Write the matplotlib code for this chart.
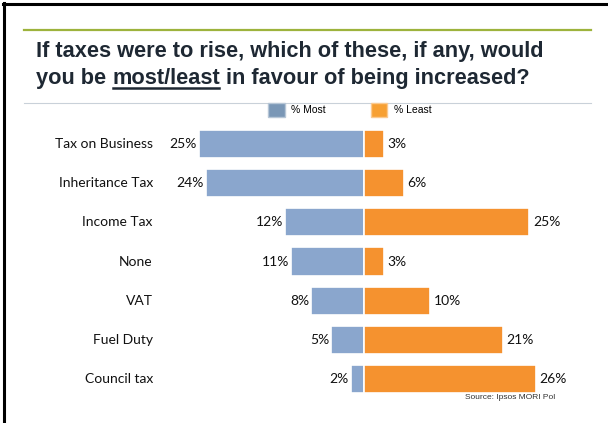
import matplotlib.pyplot as plt
from matplotlib.lines import Line2D
from matplotlib.patches import Patch

categories = ['Tax on Business', 'Inheritance Tax', 'Income Tax', 'None',
              'VAT', 'Fuel Duty', 'Council tax']
most = [25, 24, 12, 11, 8, 5, 2]
least = [3, 6, 25, 3, 10, 21, 26]

BLUE = '#8AA6CD'
ORANGE = '#F5922F'
DARK = '#1E2833'

W, H = 608, 423
fig = plt.figure(figsize=(W / 100, H / 100), dpi=100)
fig.patch.set_facecolor('white')

def fx(px):
    return px / W

def fy(py):
    return 1 - py / H

# slide frame and rules
fig.add_artist(Line2D([fx(3), 1], [fy(4), fy(4)], color='black', lw=2.2))
fig.add_artist(Line2D([fx(4), fx(4)], [fy(3), 0], color='black', lw=2.2))
fig.add_artist(Line2D([fx(24), fx(591)], [fy(30), fy(30)], color='#9DB33C', lw=1.6))
fig.add_artist(Line2D([fx(24), fx(591)], [fy(103), fy(103)], color='#C9D1D9', lw=0.8))

# title, second line built in pieces so "most/least" can be underlined
tfont = dict(family='Liberation Sans', fontsize=15.7, fontweight='bold', color=DARK)
fig.text(fx(36), fy(52), 'If taxes were to rise, which of these, if any, would',
         va='center', **tfont)
fig.canvas.draw()
renderer = fig.canvas.get_renderer()
x = fx(36)
parts = ['you be ', 'most/least', ' in favour of being increased?']
for i, part in enumerate(parts):
    t = fig.text(x, fy(78), part, va='center', **tfont)
    bb = t.get_window_extent(renderer)
    x0, x1 = bb.x0 / W, bb.x1 / W
    if i == 1:
        fig.add_artist(Line2D([x0 + 0.002, x1 - 0.002], [fy(88.5), fy(88.5)],
                              color=DARK, lw=1.8))
    x = x1

# bars: left side goes negative
ax = fig.add_axes([fx(166), fy(398.6), fx(396), 274.2 / H])
y = list(range(len(categories)))
ax.barh(y, [-v for v in most], height=0.72, color=BLUE, edgecolor='white', lw=1.2)
ax.barh(y, least, height=0.72, color=ORANGE, edgecolor='white', lw=1.2)
ax.set_xlim(-30, 30)
ax.set_ylim(len(categories) - 0.5, -0.5)
ax.axis('off')

lfont = dict(family='Lato', fontsize=10, color='#111111')
for i, cat in enumerate(categories):
    ax.text(-32.0, i, cat, ha='right', va='center', **lfont)
    ax.text(-most[i] - 0.3, i, f'{most[i]}%', ha='right', va='center', **lfont)
    ax.text(least[i] + 0.6, i, f'{least[i]}%', ha='left', va='center', **lfont)

handles = [Patch(facecolor='#7A97B6', edgecolor='#B7C6D6', label='% Most'),
           Patch(facecolor='#F7A033', edgecolor='#FBC98F', label='% Least')]
fig.legend(handles=handles, loc='center left', bbox_to_anchor=(fx(259), fy(110)),
           ncol=2, frameon=False, prop={'family': 'Liberation Sans', 'size': 7.5},
           handlelength=1.6, handleheight=1.6, columnspacing=4.3, handletextpad=0.6)

fig.text(fx(510), fy(397), 'Source: Ipsos MORI Pol', ha='center', va='center',
         family='Liberation Sans', fontsize=6, color='#333333')

fig.savefig('out.png', dpi=100)
